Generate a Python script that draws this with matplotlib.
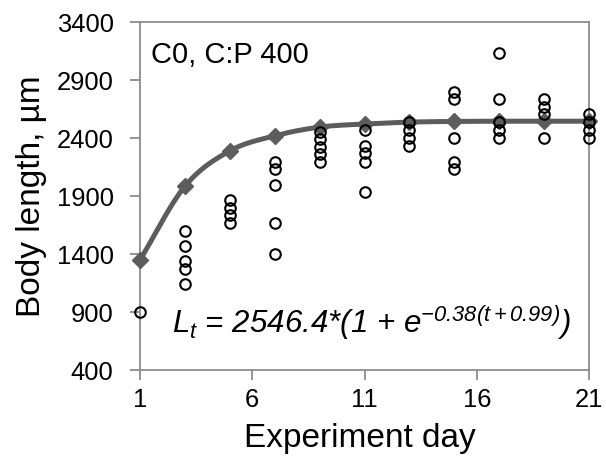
import numpy as np
import matplotlib
matplotlib.use("Agg")
import matplotlib.pyplot as plt

plt.rcParams['font.family'] = ['Liberation Sans', 'DejaVu Sans']
plt.rcParams['mathtext.fontset'] = 'custom'
plt.rcParams['mathtext.rm'] = 'Liberation Sans:italic'
plt.rcParams['mathtext.it'] = 'Liberation Sans:italic'

# Observed body lengths (open circles)
obs_days = [1,
            3, 3, 3, 3, 3,
            5, 5, 5, 5,
            7, 7, 7, 7, 7,
            9, 9, 9, 9, 9,
            11, 11, 11, 11, 11,
            13, 13, 13, 13,
            15, 15, 15, 15, 15,
            17, 17, 17, 17, 17,
            19, 19, 19, 19,
            21, 21, 21, 21]
obs_length = [900,
              1600, 1470, 1340, 1270, 1140,
              1870, 1800, 1735, 1665,
              2195, 2130, 2000, 1665, 1405,
              2455, 2390, 2325, 2260, 2195,
              2470, 2335, 2270, 2195, 1935,
              2540, 2470, 2400, 2335,
              2800, 2735, 2400, 2195, 2130,
              3135, 2735, 2535, 2470, 2400,
              2735, 2670, 2605, 2400,
              2605, 2540, 2470, 2400]

# Fitted model values (grey diamonds)
fit_days = [1, 3, 5, 7, 9, 11, 13, 15, 17, 19, 21]
fit_length = [1350, 1985, 2290, 2420, 2495, 2522, 2538, 2544, 2546, 2546, 2546]

y_ticks = [400, 900, 1400, 1900, 2400, 2900, 3400]
x_ticks = [1, 6, 11, 16, 21]


def catmull_rom(x, y, n=20):
    x = np.asarray(x, float); y = np.asarray(y, float)
    px = np.concatenate([[2*x[0]-x[1]], x, [2*x[-1]-x[-2]]])
    py = np.concatenate([[2*y[0]-y[1]], y, [2*y[-1]-y[-2]]])
    xs, ys = [], []
    t = np.linspace(0, 1, n, endpoint=False)
    for i in range(1, len(px)-2):
        for arr, out in ((px, xs), (py, ys)):
            p0, p1, p2, p3 = arr[i-1], arr[i], arr[i+1], arr[i+2]
            out.extend(0.5*((2*p1) + (-p0+p2)*t + (2*p0-5*p1+4*p2-p3)*t**2
                            + (-p0+3*p1-3*p2+p3)*t**3))
    xs.append(x[-1]); ys.append(y[-1])
    return np.array(xs), np.array(ys)


fig = plt.figure(figsize=(6.06, 4.61), dpi=100)
ax = fig.add_axes([0.231, 0.197, 0.741, 0.755])

grey = '#5c5c5c'
sx, sy = catmull_rom(fit_days, fit_length)
ax.plot(sx, sy, color=grey, lw=3.6, solid_capstyle='round', zorder=2, clip_on=False)
ax.plot(fit_days, fit_length, linestyle='none', marker='D', ms=8.5,
        color=grey, zorder=3, clip_on=False)
ax.plot(obs_days, obs_length, linestyle='none', marker='o', ms=7.6,
        mfc='none', mec='black', mew=1.5, zorder=4, clip_on=False)

ax.set_xlim(1, 21)
ax.set_ylim(400, 3400)
ax.set_xticks(x_ticks)
ax.set_yticks(y_ticks)
ax.tick_params(axis='both', direction='out', length=7, width=1.3,
               color='#8c8c8c', labelsize=18.4)
ax.tick_params(axis='x', pad=6)
ax.tick_params(axis='y', pad=12)
for s in ax.spines.values():
    s.set_color('#8c8c8c')
    s.set_linewidth(1.3)

ax.set_xlabel('Experiment day', fontsize=24)
ax.set_ylabel('Body length, µm', fontsize=24)
ax.yaxis.set_label_coords(-0.207, 0.5)
ax.xaxis.set_label_coords(0.49, -0.152)

ax.text(0.024, 0.883, 'C0, C:P 400', transform=ax.transAxes,
        fontsize=21, va='baseline', ha='left')
ax.text(0.071, 0.106,
        r'$L_t$ = 2546.4*(1 + e$^{\mathrm{-0.38(t+0.99)}}$)',
        transform=ax.transAxes, fontsize=22.5, style='italic',
        va='baseline', ha='left')

fig.savefig('out.png', dpi=100)
